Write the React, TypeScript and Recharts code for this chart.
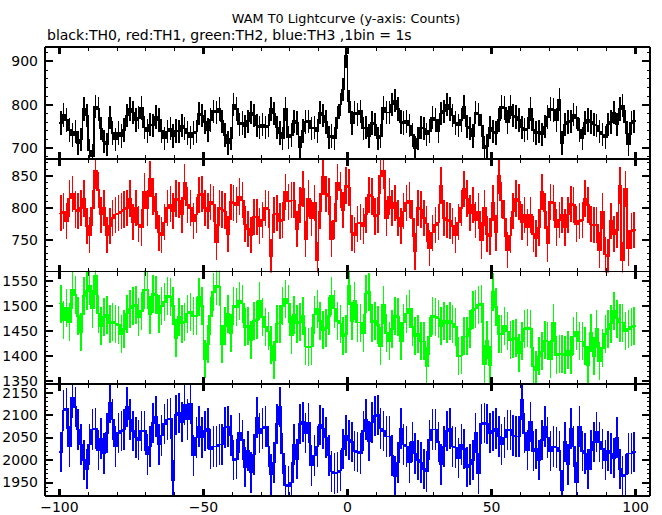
import React from 'react';
import { ComposedChart, Line, XAxis, YAxis, ErrorBar } from 'recharts';

// ---------- data (counts per 1 s bin, bins from t = -100 s to t = +100 s) ----------
const th0 = [
  758, 776, 765, 742, 730, 738, 712, 720, 790, 775,
  695, 682, 796, 790, 745, 715, 708, 770, 735, 720,
  735, 728, 742, 775, 790, 782, 765, 770, 792, 748,
  740, 755, 752, 772, 765, 740, 722, 738, 745, 728,
  740, 738, 752, 745, 735, 725, 735, 738, 780, 775,
  760, 742, 765, 785, 782, 790, 762, 730, 712, 722,
  800, 790, 755, 758, 750, 762, 782, 775, 752, 748,
  755, 748, 752, 790, 780, 748, 735, 722, 790, 725,
  730, 762, 758, 702, 740, 760, 762, 745, 748, 740,
  782, 775, 760, 725, 728, 722, 770, 800, 835, 912,
  808, 758, 782, 778, 785, 745, 748, 728, 758, 755,
  722, 728, 792, 782, 782, 800, 810, 790, 760, 758,
  762, 752, 730, 700, 722, 748, 745, 732, 740, 770,
  765, 740, 780, 785, 800, 790, 775, 758, 752, 765,
  795, 750, 745, 728, 782, 778, 752, 700, 705, 748,
  738, 735, 765, 795, 792, 760, 795, 775, 772, 765,
  748, 742, 745, 790, 742, 735, 738, 732, 750, 772,
  790, 788, 765, 812, 712, 755, 760, 762, 778, 770,
  742, 722, 758, 765, 760, 755, 752, 738, 732, 725,
  755, 760, 782, 755, 790, 798, 760, 708, 758, 762,
];

const th1 = [
  792, 795, 780, 815, 822, 798, 795, 800, 815, 772,
  758, 800, 858, 828, 790, 800, 758, 772, 785, 790,
  792, 795, 798, 800, 815, 778, 800, 775, 770, 826,
  800, 845, 818, 795, 762, 758, 778, 800, 806, 795,
  815, 812, 790, 840, 805, 800, 780, 790, 820, 822,
  800, 795, 810, 806, 748, 800, 798, 795, 760, 810,
  808, 805, 818, 812, 775, 768, 758, 786, 786, 772,
  782, 800, 798, 725, 790, 792, 780, 782, 825, 810,
  812, 812, 768, 805, 830, 752, 815, 785, 808, 720,
  795, 848, 822, 818, 752, 780, 840, 828, 797, 835,
  832, 762, 758, 776, 778, 772, 790, 820, 818, 787,
  790, 850, 858, 785, 818, 800, 808, 785, 772, 795,
  808, 812, 784, 733, 800, 798, 785, 776, 738, 762,
  774, 778, 835, 785, 782, 780, 772, 758, 778, 800,
  830, 815, 792, 805, 782, 795, 750, 800, 760, 756,
  808, 762, 850, 812, 784, 735, 758, 795, 815, 810,
  778, 790, 770, 790, 760, 753, 770, 825, 795, 745,
  810, 808, 770, 782, 790, 770, 790, 807, 805, 775,
  780, 782, 815, 805, 775, 774, 774, 735, 795, 728,
  725, 780, 760, 766, 835, 720, 830, 738, 765, 766,
];

const th2 = [
  1505, 1472, 1497, 1468, 1532, 1522, 1480, 1448, 1520, 1530,
  1540, 1495, 1560, 1485, 1460, 1478, 1482, 1465, 1468, 1465,
  1462, 1445, 1455, 1485, 1495, 1500, 1502, 1478, 1490, 1533,
  1532, 1483, 1525, 1522, 1485, 1500, 1508, 1520, 1518, 1500,
  1437, 1478, 1465, 1468, 1485, 1488, 1480, 1480, 1518, 1500,
  1395, 1425, 1480, 1528, 1540, 1538, 1425, 1460, 1485, 1447,
  1500, 1498, 1510, 1505, 1458, 1460, 1432, 1470, 1472, 1510,
  1478, 1458, 1450, 1422, 1392, 1465, 1465, 1500, 1515, 1505,
  1442, 1483, 1465, 1468, 1480, 1420, 1418, 1420, 1483, 1495,
  1470, 1452, 1457, 1480, 1520, 1495, 1470, 1465, 1440, 1445,
  1540, 1470, 1510, 1467, 1467, 1447, 1525, 1528, 1467, 1470,
  1462, 1420, 1502, 1447, 1430, 1455, 1480, 1478, 1430, 1467,
  1485, 1495, 1458, 1440, 1445, 1430, 1430, 1380, 1440, 1480,
  1478, 1475, 1460, 1470, 1465, 1470, 1465, 1458, 1400, 1402,
  1440, 1440, 1455, 1492, 1495, 1502, 1505, 1385, 1432, 1382,
  1528, 1498, 1445, 1445, 1460, 1450, 1432, 1435, 1437, 1407,
  1430, 1455, 1457, 1455, 1380, 1372, 1400, 1410, 1432, 1430,
  1395, 1467, 1402, 1405, 1405, 1402, 1412, 1402, 1440, 1450,
  1430, 1430, 1420, 1382, 1447, 1400, 1455, 1390, 1417, 1445,
  1455, 1465, 1490, 1475, 1467, 1467, 1450, 1455, 1458, 1460,
];

const th3 = [
  2018, 2110, 2115, 2030, 2138, 2118, 2068, 2035, 2000, 1980,
  2035, 2068, 2070, 2022, 2048, 2015, 2060, 2128, 2090, 2030,
  2060, 2065, 2068, 2118, 2090, 2065, 2050, 2045, 2065, 2065,
  2012, 2030, 2082, 2097, 2035, 2055, 2080, 2090, 2092, 1955,
  2100, 2105, 2085, 2122, 2090, 2125, 2010, 2050, 2075, 2050,
  2065, 2070, 2025, 2030, 2030, 2035, 2035, 2072, 2075, 2055,
  2000, 2002, 2060, 2045, 1985, 2020, 1972, 2012, 2095, 2060,
  2070, 2075, 2030, 1968, 1995, 2080, 2118, 2015, 1945, 1942,
  1950, 2035, 2002, 2080, 2085, 2060, 2082, 1988, 2010, 2030,
  2078, 2070, 2050, 2010, 1975, 1970, 1972, 1977, 2025, 2055,
  2045, 2040, 2020, 2018, 2015, 2065, 2090, 2042, 2083, 2098,
  2100, 2070, 2065, 2052, 2052, 2010, 1965, 1995, 2070, 2035,
  2030, 1995, 2040, 2015, 2000, 1995, 1980, 1975, 2045, 2068,
  2068, 2040, 1990, 2030, 2065, 2070, 2030, 2028, 2005, 2035,
  2025, 1985, 1990, 2000, 2060, 1970, 2080, 2082, 2080, 2060,
  2065, 2070, 2052, 2035, 2050, 2067, 2067, 2055, 2052, 2052,
  2135, 2060, 2022, 2085, 2020, 2025, 2000, 2045, 2075, 2050,
  2020, 2030, 2028, 2020, 1932, 2040, 1990, 2070, 2030, 1950,
  2075, 2020, 2015, 1980, 2022, 2040, 2062, 2040, 2025, 2000,
  2020, 2015, 2005, 2050, 1980, 1965, 1968, 2015, 2015, 2018,
];

// 1-sigma error half-heights per band (Poisson, ~sqrt of typical counts)
const errTH0 = 27;
const errTH1 = 28;
const errTH2 = 38;
const errTH3 = 45;

const binStart = -100;
const binWidth = 1;

// ---------- axes ----------
const xDomain: [number, number] = [-105, 105];
const xMajorTicks = [-100, -50, 0, 50, 100];
const xMinorTicks = [-100, -90, -80, -70, -60, -50, -40, -30, -20, -10, 0, 10, 20, 30, 40, 50, 60, 70, 80, 90, 100];

const yTicksTH0 = [700, 800, 900];
const yTicksTH1 = [750, 800, 850];
const yTicksTH2 = [1350, 1400, 1450, 1500, 1550];
const yTicksTH3 = [1950, 2000, 2050, 2100, 2150];

const titleText = 'WAM T0 Lightcurve (y-axis: Counts)';
const subtitleText = 'black:TH0, red:TH1, green:TH2, blue:TH3 ,1bin = 1s';

function range(a: number, b: number, step: number) {
  const out: number[] = [];
  for (let v = a; v <= b + 1e-9; v += step) out.push(v);
  return out;
}

const W = 662;
const H = 515;
const PLOT_L = 45;
const PLOT_R = 650;
const FONT = '"DejaVu Sans", "Liberation Sans", Arial, sans-serif';

type Panel = {
  values: number[];
  err: number;
  color: string;
  domain: [number, number];
  major: number[];
  minor: number[];
  top: number;
  bottom: number;
};

const panels: Panel[] = [
  { values: th0, err: errTH0, color: '#000000', domain: [675, 933], major: yTicksTH0, minor: range(680, 920, 20), top: 47, bottom: 159 },
  { values: th1, err: errTH1, color: '#ff0000', domain: [702, 876], major: yTicksTH1, minor: range(710, 870, 10), top: 159, bottom: 271.5 },
  { values: th2, err: errTH2, color: '#00ff00', domain: [1345, 1569], major: yTicksTH2, minor: range(1350, 1560, 10), top: 271.5, bottom: 384 },
  { values: th3, err: errTH3, color: '#0000ff', domain: [1920, 2169], major: yTicksTH3, minor: range(1930, 2160, 10), top: 384, bottom: 496 },
];

function buildRows(values: number[], err: number) {
  const rows = values.map((v, i) => ({ t: binStart + (i + 0.5) * binWidth, y: v, e: err }));
  const end = binStart + values.length * binWidth;
  return [{ t: binStart, y: values[0], e: 0 }, ...rows, { t: end, y: values[values.length - 1], e: 0 }];
}

const fmtX = (v: number) => (v < 0 ? '\u2212' + Math.abs(v) : String(v));

// custom tick marks drawn inward from the frame
function makeXTick(dir: 1 | -1) {
  return (props: any) => {
    const { x, y, payload } = props;
    const major = xMajorTicks.includes(payload.value);
    const len = major ? 7 : 4;
    return (
      <line x1={x} x2={x} y1={y} y2={y + dir * len} stroke="#000" strokeWidth={major ? 2.5 : 1} />
    );
  };
}
const BottomTick = makeXTick(-1);
const TopTick = makeXTick(1);

function makeYTick(dir: 1 | -1, major: number[]) {
  return (props: any) => {
    const { x, y, payload } = props;
    const isMajor = major.includes(payload.value);
    const len = isMajor ? 8 : 3;
    return (
      <line x1={x} x2={x + dir * len} y1={y} y2={y} stroke="#000" strokeWidth={isMajor ? 2 : 1} />
    );
  };
}

function PanelChart({ p }: { p: Panel }) {
  const rows = buildRows(p.values, p.err);
  const frame = { stroke: '#000', strokeWidth: 1.5 };
  const common = { dataKey: 't', type: 'number' as const, domain: xDomain, allowDataOverflow: true, interval: 0 as const };
  const ycommon = { type: 'number' as const, domain: p.domain, allowDataOverflow: true, interval: 0 as const };
  const t = p.top;
  const b = p.bottom;
  const clip = `polygon(0px ${t - 9}px, ${PLOT_L - 1}px ${t - 9}px, ${PLOT_L - 1}px ${t - 1}px, ${PLOT_R + 1}px ${t - 1}px, ${PLOT_R + 1}px ${b + 1}px, ${PLOT_L - 1}px ${b + 1}px, ${PLOT_L - 1}px ${b + 9}px, 0px ${b + 9}px)`;
  return (
    <div style={{ position: 'absolute', left: 0, top: 0, width: W, height: H, clipPath: clip }}>
      <ComposedChart
        width={W}
        height={H}
        data={rows}
        margin={{ top: t, right: W - PLOT_R, bottom: H - b, left: 0 }}
      >
        <XAxis xAxisId="b" {...common} orientation="bottom" mirror height={1} ticks={xMinorTicks} tick={BottomTick} tickSize={0} tickMargin={0} axisLine={frame} tickLine={false} />
        <XAxis xAxisId="t" {...common} orientation="top" mirror height={1} ticks={xMinorTicks} tick={TopTick} tickSize={0} tickMargin={0} axisLine={frame} tickLine={false} />
        <YAxis
          yAxisId="lab"
          {...ycommon}
          orientation="left"
          width={PLOT_L}
          ticks={p.major}
          tickSize={0}
          tickMargin={7}
          axisLine={false}
          tickLine={false}
          tick={{ fill: '#000', fontSize: 14, fontFamily: FONT }}
        />
        <YAxis yAxisId="l" {...ycommon} orientation="left" mirror width={1} ticks={p.minor} tick={makeYTick(1, p.major)} tickSize={0} tickMargin={0} axisLine={frame} tickLine={false} />
        <YAxis yAxisId="r" {...ycommon} orientation="right" mirror width={1} ticks={p.minor} tick={makeYTick(-1, p.major)} tickSize={0} tickMargin={0} axisLine={frame} tickLine={false} />
        <Line
          xAxisId="b"
          yAxisId="lab"
          type="step"
          dataKey="y"
          stroke={p.color}
          strokeWidth={1.5}
          dot={false}
          activeDot={false}
          isAnimationActive={false}
        >
          <ErrorBar dataKey="e" direction="y" width={0} stroke={p.color} strokeWidth={1.5} isAnimationActive={false} />
        </Line>
      </ComposedChart>
    </div>
  );
}

function XLabels({ p }: { p: Panel }) {
  const rows = buildRows(p.values, p.err);
  return (
    <div style={{ position: 'absolute', left: 0, top: 0 }}>
      <ComposedChart width={W} height={H} data={rows} margin={{ top: p.top, right: W - PLOT_R, bottom: 0, left: PLOT_L }}>
        <XAxis
          xAxisId="lab"
          dataKey="t"
          type="number"
          domain={xDomain}
          allowDataOverflow
          interval={0}
          orientation="bottom"
          height={H - p.bottom}
          ticks={xMajorTicks}
          tickFormatter={fmtX}
          tickSize={0}
          tickMargin={6}
          axisLine={false}
          tickLine={false}
          tick={{ fill: '#000', fontSize: 14, fontFamily: FONT }}
        />
        <YAxis yAxisId="h" type="number" domain={p.domain} hide />
      </ComposedChart>
    </div>
  );
}

export default function App() {
  return (
    <div style={{ position: 'absolute', left: 0, top: 0, width: W, height: H, background: '#fff', overflow: 'hidden' }}>
      <style>{'.recharts-surface line, .recharts-surface path { shape-rendering: crispEdges; }'}</style>
      {panels.map((p, i) => (
        <PanelChart key={i} p={p} />
      ))}
      <XLabels p={panels[panels.length - 1]} />
      <svg width={W} height={H} style={{ position: 'absolute', left: 0, top: 0, pointerEvents: 'none' }}>
        <text x={346} y={23} textAnchor="middle" fontSize={12.8} fontFamily={FONT} fill="#000">
          {titleText}
        </text>
        <text x={47} y={40} textAnchor="start" fontSize={14} fontFamily={FONT} fill="#000">
          {subtitleText}
        </text>
      </svg>
    </div>
  );
}
